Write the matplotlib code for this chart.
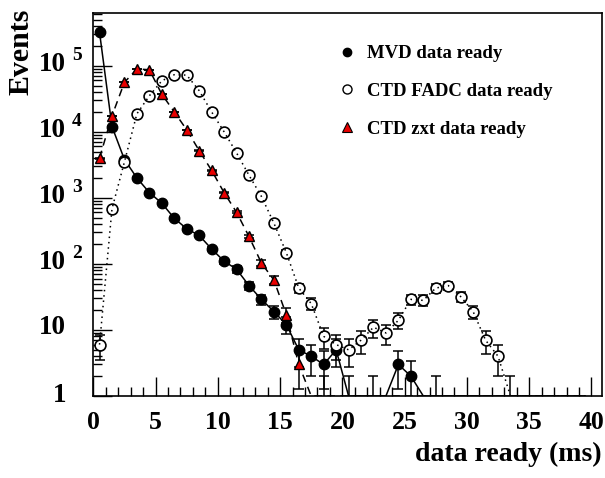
import numpy as np
import matplotlib
matplotlib.use('Agg')
import matplotlib.pyplot as plt
from matplotlib.lines import Line2D
from matplotlib.ticker import MultipleLocator, LogLocator, NullFormatter
import matplotlib.transforms as mtransforms

# ---------------- data ----------------
bin_centers = np.arange(40) + 0.5

mvd = [320000, 12000, 3800, 2000, 1200, 830, 490, 340, 270, 168,
       110, 83, 47, 29, 19, 12, 5, 4, 3, 5,
       1, 0, 1, 0, 3, 2, 0, 1, 0, 0,
       0, 0, 0, 0, 0, 0, 0, 0, 0, 0]

fadc = [6, 680, 3500, 18700, 35000, 59000, 73000, 72000, 42000, 20000,
        10000, 4800, 2200, 1050, 415, 148, 43, 25, 8, 6,
        5, 7, 11, 9, 14, 29, 28, 43, 47, 32,
        19, 7, 4, 1, 0, 0, 0, 0, 0, 0]

zxt = [4000, 17400, 56000, 89000, 87000, 37000, 20000, 10700, 5200, 2600,
       1200, 605, 260, 103, 57, 17, 3, 0, 1, 0,
       0, 0, 0, 0, 0, 0, 0, 0, 0, 0,
       0, 0, 0, 0, 0, 0, 0, 0, 0, 0]

series_labels = ['MVD data ready', 'CTD FADC data ready', 'CTD zxt data ready']
ytick_values = [1, 10, 100, 1000, 10000, 100000]
ytick_base = ['1', '10', '10', '10', '10', '10']
ytick_exp = ['', '', '2', '3', '4', '5']
xtick_values = [0, 5, 10, 15, 20, 25, 30, 35, 40]
x_label = 'data ready (ms)'
y_label = 'Events'

# ---------------- style ----------------
plt.rcParams['font.family'] = ['Liberation Serif', 'DejaVu Serif']
plt.rcParams['font.weight'] = 'bold'

W, H = 605, 478
fig = plt.figure(figsize=(W / 100, H / 100), dpi=100)
left_px, right_px, top_px, bot_px = 93.3, 602.0, 13.0, 396.0
ax = fig.add_axes([left_px / W, 1 - bot_px / H, (right_px - left_px) / W, (bot_px - top_px) / H])
ax.set_yscale('log')
YMIN = 1.0
ax.set_xlim(0, 40.85)
ax.set_ylim(YMIN, 10 ** (383 / 66.06))

LW = 1.1


def draw_series(values, marker, mfc, ls, ms, face_cover=False):
    v = np.asarray(values, dtype=float)
    line_y = np.maximum(v, YMIN)
    # error bars (Poisson) for filled bins
    pos = v > 0
    err_hi = np.sqrt(v[pos])
    err_lo = np.minimum(np.sqrt(v[pos]), v[pos] - 1e-3)
    ax.errorbar(bin_centers[pos], v[pos], yerr=[err_lo, err_hi], fmt='none',
                ecolor='black', elinewidth=LW, capsize=3.6, capthick=LW, zorder=2)
    mk_y = np.where(v > YMIN, v, np.nan)
    if face_cover:
        ax.plot(bin_centers, mk_y, ls='none', marker=marker, ms=ms, mfc='white',
                mec='black', mew=1.2, zorder=3)
        ax.plot(bin_centers, line_y, color='black', lw=LW, ls=ls, zorder=4)
    else:
        ax.plot(bin_centers, line_y, color='black', lw=LW, ls=ls, zorder=2)
        ax.plot(bin_centers, mk_y, ls='none', marker=marker, ms=ms, mfc=mfc,
                mec='black', mew=1.0, zorder=3)


draw_series(mvd, 'o', 'black', '-', 7.5)
draw_series(fadc, 'o', 'none', (0, (1, 2.5)), 7.8, face_cover=True)
draw_series(zxt, '^', '#e80000', (0, (5, 3.5)), 7.8)

# ---------------- axes / ticks ----------------
for s in ax.spines.values():
    s.set_linewidth(1.2)
    s.set_zorder(5)
ax.set_xticks(xtick_values)
ax.set_xticklabels([str(t) for t in xtick_values], fontsize=18.5, fontweight='bold')
ax.xaxis.set_minor_locator(MultipleLocator(1))
ax.yaxis.set_major_locator(LogLocator(base=10, numticks=20))
ax.yaxis.set_minor_locator(LogLocator(base=10, subs=np.arange(2, 10), numticks=50))
ax.yaxis.set_major_formatter(NullFormatter())
ax.yaxis.set_minor_formatter(NullFormatter())
ax.tick_params(axis='both', which='major', direction='in', length=14, width=1.0,
               top=False, right=False)
ax.tick_params(axis='both', which='minor', direction='in', length=6.8, width=1.0,
               top=False, right=False)
ax.tick_params(axis='x', which='major', pad=11)

# y tick labels, ROOT style (base + raised exponent)
blend = mtransforms.blended_transform_factory(ax.transAxes, ax.transData)
for val, base, ex in zip(ytick_values, ytick_base, ytick_exp):
    dy_base = 1.5 if ex else (2.0 if base == '10' else 0.0)
    tb = blend + mtransforms.ScaledTranslation(-(left_px - 66) / 100, dy_base / 100, fig.dpi_scale_trans)
    ax.text(0, val, base, transform=tb, ha='right', va='center', fontsize=19.5,
            fontweight='bold', clip_on=False)
    if ex:
        te = blend + mtransforms.ScaledTranslation(-(left_px - 72) / 100, 10 / 100, fig.dpi_scale_trans)
        ax.text(0, val, ex, transform=te, ha='left', va='center', fontsize=14,
                fontweight='bold', clip_on=False)

fig.text(602 / W, 1 - 454 / H, x_label, ha='right', va='center', fontsize=20, fontweight='bold')
fig.text(21 / W, 1 - 9 / H, y_label, rotation=90, ha='center', va='top', fontsize=21.5, fontweight='bold')

# ---------------- legend ----------------
handles = [
    Line2D([], [], ls='none', marker='o', ms=6, mfc='black', mec='black'),
    Line2D([], [], ls='none', marker='o', ms=6.5, mfc='white', mec='black', mew=1.0),
    Line2D([], [], ls='none', marker='^', ms=6.5, mfc='#e80000', mec='black', mew=0.8),
]
ax.legend(handles, series_labels, loc='upper left',
          bbox_to_anchor=(337.6 / W, 1 - 45 / H), bbox_transform=fig.transFigure,
          frameon=False, borderpad=0, borderaxespad=0, handlelength=1.0,
          handletextpad=0.57, labelspacing=1.1,
          prop={'size': 13.5, 'weight': 'bold', 'family': 'Liberation Serif'})

fig.savefig('out.png', dpi=100)
